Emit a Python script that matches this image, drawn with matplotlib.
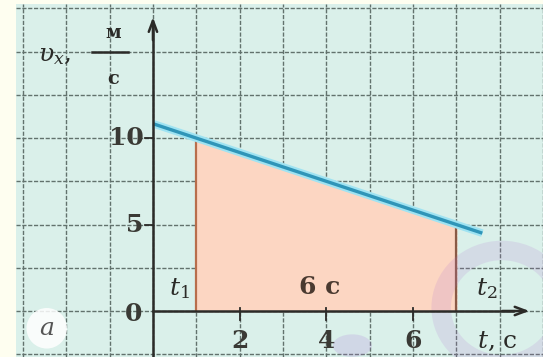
import matplotlib.pyplot as plt
from matplotlib.patches import Ellipse
import numpy as np

plt.rcParams["font.family"] = ["DejaVu Serif"]
plt.rcParams["mathtext.fontset"] = "dejavuserif"

# velocity line v_x(t), m/s
t_line = [0.0, 7.6]
v_line = [10.83, 4.5]

# shaded interval
t1, t2 = 1.0, 7.0

t_ticks = [2, 4, 6]
v_ticks = [5, 10]

ink = "#2b2b28"

fig = plt.figure(figsize=(5.43, 3.57), dpi=100)
fig.patch.set_facecolor("#fefef0")
ax = fig.add_axes([16 / 543, 0, 527 / 543, 353 / 357])
ax.set_facecolor("#daf0ea")
ax.set_xlim(-3.16, 9.0)
ax.set_ylim(-2.66, 17.75)
for s in ax.spines.values():
    s.set_visible(False)
ax.set_xticks([])
ax.set_yticks([])

# square grid: 1 s by 2.5 m/s
for gx in np.arange(-3, 10, 1):
    ax.axvline(gx, color="#62726d", lw=1.0, ls=(0, (3, 1.2)), zorder=1)
for gy in np.arange(-2.5, 18, 2.5):
    ax.axhline(gy, color="#62726d", lw=1.0, ls=(0, (3, 1.2)), zorder=1)

# area under the line between t1 and t2
slope = (v_line[1] - v_line[0]) / (t_line[1] - t_line[0])
tt = np.array([t1, t2])
vv = v_line[0] + slope * (tt - t_line[0])
ax.fill_between(tt, 0, vv, color="#fcd6c2", zorder=2)
ax.plot([t1, t1], [0, vv[0]], color="#b86e4c", lw=1.6, zorder=3)
ax.plot([t2, t2], [0, vv[1]], color="#8a5a45", lw=1.6, zorder=3)

# velocity line with light halo
ax.plot(t_line, v_line, color="#9fe3f2", lw=5.5, solid_capstyle="butt", zorder=4)
ax.plot(t_line, v_line, color="#2f95b8", lw=2.4, solid_capstyle="butt", zorder=5)

# faint stamp mark
ax.add_patch(Ellipse((8.05, 0.2), 2.8, 6.6, fill=False, ec="#b070d0", lw=14,
                     alpha=0.16, zorder=6))
ax.add_patch(Ellipse((4.6, -2.0), 0.9, 1.3, color="#b080d8", alpha=0.22, lw=0, zorder=6))

# axes with open arrow heads
ax.plot([0, 0], [-2.66, 16.6], color=ink, lw=1.8, zorder=7)
ax.annotate("", xy=(0, 17.15), xytext=(0, 15.5),
            arrowprops=dict(arrowstyle="->,head_length=0.8,head_width=0.3",
                            color=ink, lw=1.8), zorder=7)
ax.plot([0, 8.3], [0, 0], color=ink, lw=1.8, zorder=7)
ax.annotate("", xy=(8.75, 0), xytext=(8.0, 0),
            arrowprops=dict(arrowstyle="->,head_length=0.8,head_width=0.3",
                            color=ink, lw=1.8), zorder=7)

num = dict(fontsize=18, fontweight="bold", color="#3a3a35")
for t in t_ticks:
    ax.plot([t, t], [0.15, -0.5], color=ink, lw=1.3, zorder=7)
    ax.text(t, -1.75, str(t), ha="center", va="center", **num)
for v in v_ticks:
    ax.plot([-0.18, 0], [v, v], color=ink, lw=1.3, zorder=7)
    ax.text(-0.22, v, str(v), ha="right", va="center", **num)
ax.text(-0.25, -0.2, "0", ha="right", va="center", **num)

# axis titles
ax.text(-2.28, 14.8, r"$\upsilon_x$,", ha="center", va="center", fontsize=18, color=ink)
ax.text(-0.92, 16.1, "м", ha="center", va="center", fontsize=13, fontweight="bold", color=ink)
ax.plot([-1.41, -0.58], [15.0, 15.0], color=ink, lw=1.8)
ax.text(-0.92, 13.4, "с", ha="center", va="center", fontsize=14, fontweight="bold", color=ink)
ax.text(7.95, -1.75, r"$t$, с", ha="center", va="center", fontsize=18, color=ink, zorder=8)

ax.text(0.62, 1.3, r"$t_1$", ha="center", va="center", fontsize=18, color=ink, zorder=8)
ax.text(3.85, 1.4, "6 с", ha="center", va="center", fontsize=18, fontweight="bold",
        color="#4a3a30", zorder=8)
ax.text(7.7, 1.3, r"$t_2$", ha="center", va="center", fontsize=18, color=ink, zorder=8)

ax.text(-2.45, -1.0, r"$a$", ha="center", va="center", fontsize=18, color="#555",
        bbox=dict(boxstyle="circle,pad=0.35", fc="white", ec="none", alpha=0.85))

fig.savefig("out.png", dpi=100, facecolor=fig.get_facecolor())
